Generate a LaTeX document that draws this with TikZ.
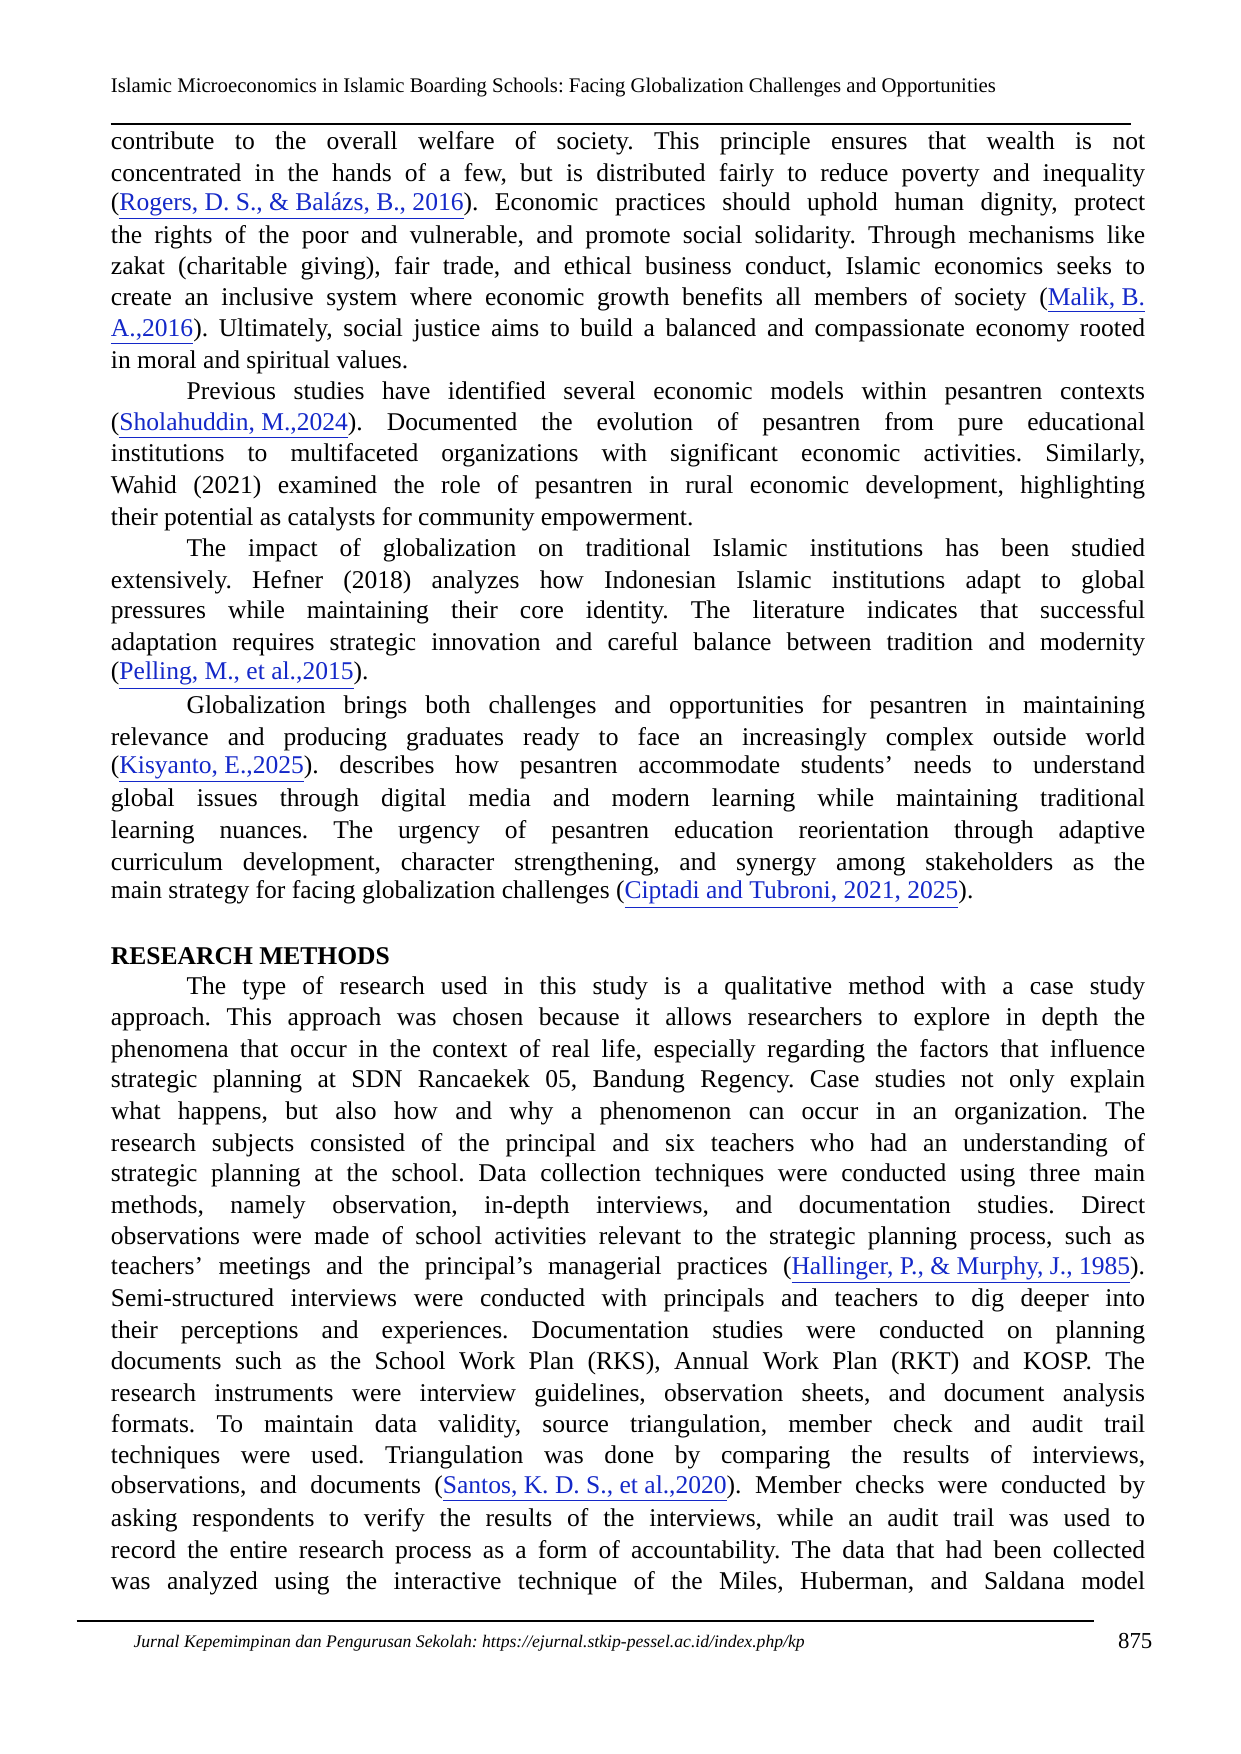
\documentclass[tikz,border=0pt]{standalone}
\usepackage{fontspec}
\setmainfont{Liberation Serif}
\definecolor{lnk}{RGB}{20,40,200}
\newcommand\lk[1]{\textcolor{lnk}{\underline{#1}}}
\newcommand\fl[2]{\node[anchor=west,inner sep=0] at (98,#1) {\makebox[17.5cm][s]{#2}};}
\newcommand\il[2]{\node[anchor=west,inner sep=0] at (98,#1) {\makebox[17.5cm][s]{\hspace*{1.28cm}#2}};}
\newcommand\lastl[2]{\node[anchor=west,inner sep=0] at (98,#1) {#2};}
\frenchspacing
\begin{document}
\begin{tikzpicture}[x=0.01909cm,y=-0.01909cm,font=\fontsize{12.3}{14}\selectfont\frenchspacing]
\useasboundingbox (0,0) rectangle (1100,1555);
\node[anchor=west,inner sep=0,font=\fontsize{10}{12}\selectfont] (hd) at (98,78) {Islamic Microeconomics in Islamic Boarding Schools: Facing Globalization Challenges and Opportunities};
\coordinate (h1) at (98,110); \coordinate (h2) at (1003,110);
\draw[line width=1.2pt] (h1) -- (h2);
\fl{127}{contribute to the overall welfare of society. This principle ensures that wealth is not}
\fl{155}{concentrated in the hands of a few, but is distributed fairly to reduce poverty and inequality}
\fl{183}{(\lk{Rogers, D. S., \& Balázs, B., 2016}). Economic practices should uphold human dignity, protect}
\fl{210}{the rights of the poor and vulnerable, and promote social solidarity. Through mechanisms like}
\fl{238}{zakat (charitable giving), fair trade, and ethical business conduct, Islamic economics seeks to}
\fl{266}{create an inclusive system where economic growth benefits all members of society (\lk{Malik, B.}}
\fl{294}{\lk{A.,2016}). Ultimately, social justice aims to build a balanced and compassionate economy rooted}
\lastl{321}{in moral and spiritual values.}
\il{349}{Previous studies have identified several economic models within pesantren contexts}
\fl{377}{(\lk{Sholahuddin, M.,2024}). Documented the evolution of pesantren from pure educational}
\fl{404}{institutions to multifaceted organizations with significant economic activities. Similarly,}
\fl{432}{Wahid (2021) examined the role of pesantren in rural economic development, highlighting}
\lastl{460}{their potential as catalysts for community empowerment.}
\il{488}{The impact of globalization on traditional Islamic institutions has been studied}
\fl{516}{extensively. Hefner (2018) analyzes how Indonesian Islamic institutions adapt to global}
\fl{543}{pressures while maintaining their core identity. The literature indicates that successful}
\fl{571}{adaptation requires strategic innovation and careful balance between tradition and modernity}
\lastl{599}{(\lk{Pelling, M., et al.,2015}).}
\il{627}{Globalization brings both challenges and opportunities for pesantren in maintaining}
\fl{655}{relevance and producing graduates ready to face an increasingly complex outside world}
\fl{682}{(\lk{Kisyanto, E.,2025}). describes how pesantren accommodate students' needs to understand}
\fl{710}{global issues through digital media and modern learning while maintaining traditional}
\fl{738}{learning nuances. The urgency of pesantren education reorientation through adaptive}
\fl{766}{curriculum development, character strengthening, and synergy among stakeholders as the}
\lastl{793}{main strategy for facing globalization challenges (\lk{Ciptadi and Tubroni, 2021, 2025}).}
\lastl{848}{\textbf{RESEARCH METHODS}}
\il{876}{The type of research used in this study is a qualitative method with a case study}
\fl{904}{approach. This approach was chosen because it allows researchers to explore in depth the}
\fl{932}{phenomena that occur in the context of real life, especially regarding the factors that influence}
\fl{959}{strategic planning at SDN Rancaekek 05, Bandung Regency. Case studies not only explain}
\fl{987}{what happens, but also how and why a phenomenon can occur in an organization. The}
\fl{1015}{research subjects consisted of the principal and six teachers who had an understanding of}
\fl{1042}{strategic planning at the school. Data collection techniques were conducted using three main}
\fl{1070}{methods, namely observation, in-depth interviews, and documentation studies. Direct}
\fl{1098}{observations were made of school activities relevant to the strategic planning process, such as}
\fl{1126}{teachers' meetings and the principal's managerial practices (\lk{Hallinger, P., \& Murphy, J., 1985}).}
\fl{1153}{Semi-structured interviews were conducted with principals and teachers to dig deeper into}
\fl{1181}{their perceptions and experiences. Documentation studies were conducted on planning}
\fl{1209}{documents such as the School Work Plan (RKS), Annual Work Plan (RKT) and KOSP. The}
\fl{1237}{research instruments were interview guidelines, observation sheets, and document analysis}
\fl{1264}{formats. To maintain data validity, source triangulation, member check and audit trail}
\fl{1292}{techniques were used. Triangulation was done by comparing the results of interviews,}
\fl{1320}{observations, and documents (\lk{Santos, K. D. S., et al.,2020}). Member checks were conducted by}
\fl{1348}{asking respondents to verify the results of the interviews, while an audit trail was used to}
\fl{1376}{record the entire research process as a form of accountability. The data that had been collected}
\fl{1404}{was analyzed using the interactive technique of the Miles, Huberman, and Saldana model}
\coordinate (f1) at (68,1437); \coordinate (f2) at (970,1437);
\draw[line width=1.2pt] (f1) -- (f2);
\node[anchor=west,inner sep=0,font=\fontsize{8.5}{10}\selectfont\itshape] (ft) at (118,1457) {Jurnal Kepemimpinan dan Pengurusan Sekolah: https://ejurnal.stkip-pessel.ac.id/index.php/kp};
\node[anchor=east,inner sep=0,font=\fontsize{11}{12}\selectfont] (pg) at (1022,1455) {875};
\end{tikzpicture}
\end{document}
